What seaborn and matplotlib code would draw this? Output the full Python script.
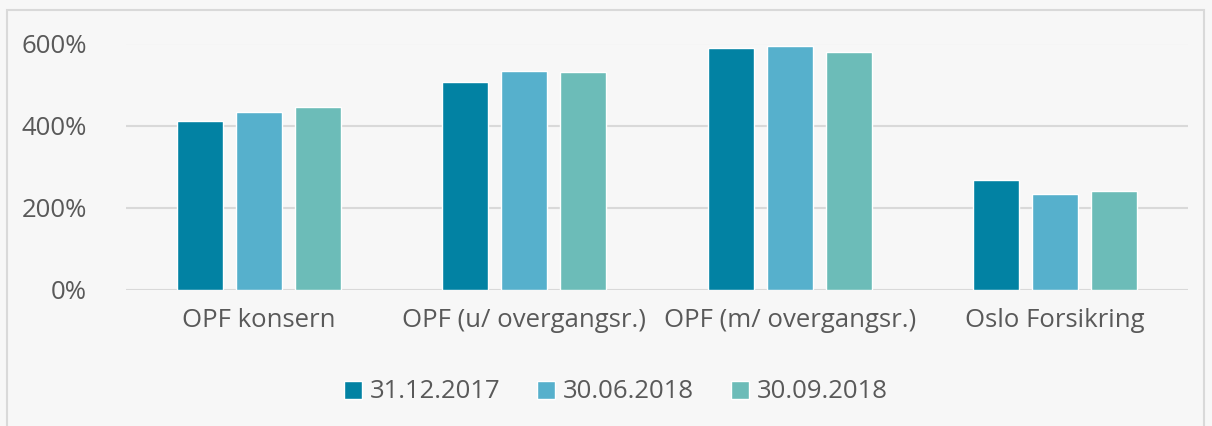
import matplotlib
matplotlib.use("Agg")
import matplotlib.pyplot as plt
import seaborn as sns
import pandas as pd
from matplotlib.patches import Rectangle
from matplotlib.ticker import FuncFormatter

categories = ["OPF konsern", "OPF (u/ overgangsr.)", "OPF (m/ overgangsr.)", "Oslo Forsikring"]
series_names = ["31.12.2017", "30.06.2018", "30.09.2018"]
v_2017_12 = [410, 506, 590, 268]
v_2018_06 = [432, 532, 593, 234]
v_2018_09 = [444, 530, 579, 240]
colors = ["#0282A3", "#56B0CC", "#6CBCB8"]
y_ticks = [0, 200, 400, 600]

rows = []
for name, vals in zip(series_names, [v_2017_12, v_2018_06, v_2018_09]):
    for c, v in zip(categories, vals):
        rows.append({"cat": c, "series": name, "value": v})
df = pd.DataFrame(rows)

sns.set_style("white")
plt.rcParams["font.family"] = ["Open Sans", "DejaVu Sans"]
FS = 18.5

fig = plt.figure(figsize=(12.12, 4.26), dpi=100)
fig.patch.set_facecolor("#f7f7f7")
fig.patches.append(Rectangle((7 / 1212, -0.05), 1197 / 1212, 1 - 10 / 426 + 0.05,
                             transform=fig.transFigure, fill=False,
                             edgecolor="#d9d9d9", linewidth=1.5))
ax = fig.add_axes([126 / 1212, 1 - 289.5 / 426, (1188 - 126) / 1212, (289.5 - 43.5) / 426])
ax.set_facecolor("#f7f7f7")

sns.barplot(data=df, x="cat", y="value", hue="series", order=categories,
            hue_order=series_names, palette=colors, width=0.667, gap=0.22,
            saturation=1, ax=ax, legend=True)

ax.set_ylim(0, 600)
ax.set_xlim(-0.5, 3.5)
ax.set_yticks(y_ticks)
ax.yaxis.set_major_formatter(FuncFormatter(lambda v, p: f"{int(v)}%"))
ax.grid(axis="y", color="#d9d9d9", linewidth=1.5)
ax.set_axisbelow(True)
for s in ax.spines.values():
    s.set_visible(False)
ax.set_xlabel("")
ax.set_ylabel("")
ax.tick_params(axis="both", length=0, labelsize=FS, colors="#595959")
ax.tick_params(axis="y", pad=28)
ax.tick_params(axis="x", pad=13)

handles, labels = ax.get_legend_handles_labels()
ax.legend(handles, labels, loc="center", bbox_to_anchor=(616 / 1212, 1 - 392 / 426),
          bbox_transform=fig.transFigure, ncol=3, frameon=False, fontsize=FS,
          labelcolor="#595959", handlelength=0.7, handleheight=0.7,
          handletextpad=0.3, columnspacing=1.45)

fig.savefig("out.png", dpi=100, facecolor=fig.get_facecolor())
